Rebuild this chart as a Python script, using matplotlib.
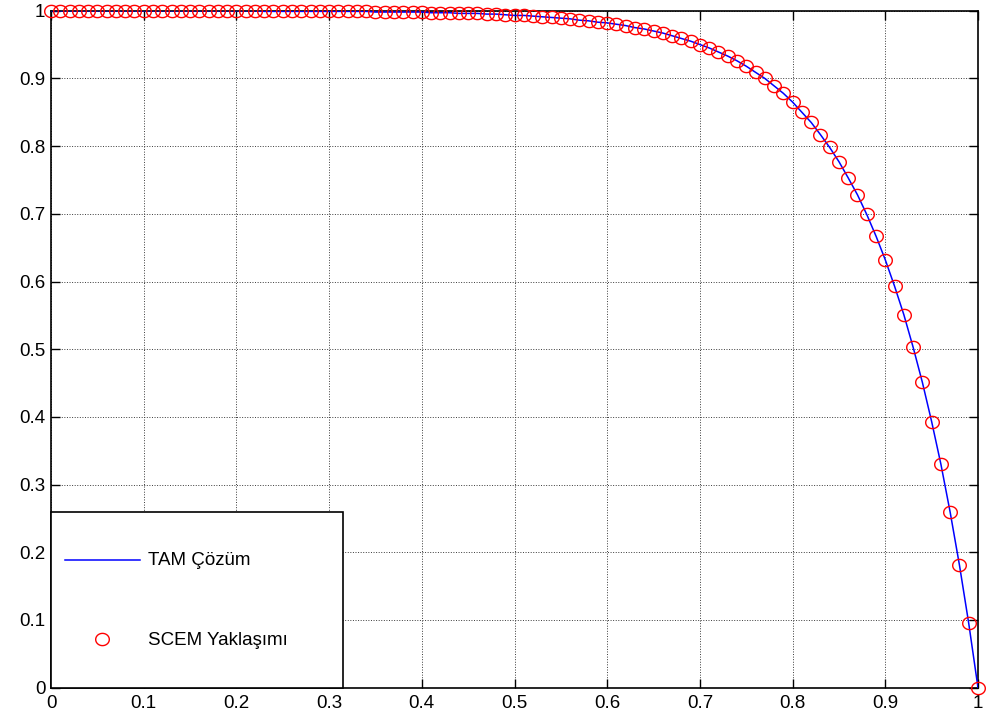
import numpy as np
import matplotlib
matplotlib.use('Agg')
import matplotlib.pyplot as plt
from matplotlib.patches import Rectangle
from matplotlib.lines import Line2D
from matplotlib.path import Path

plt.rcParams['font.family'] = ['Liberation Sans', 'DejaVu Sans']

# sample grid, one point every 0.01
x = np.linspace(0, 1, 101)

# exact solution values at the grid points
y_exact = [
    1.000, 1.000, 1.000, 1.000, 1.000, 1.000, 1.000, 1.000, 1.000, 1.000,
    1.000, 1.000, 1.000, 1.000, 1.000, 1.000, 1.000, 1.000, 1.000, 1.000,
    1.000, 1.000, 1.000, 0.999, 0.999, 0.999, 0.999, 0.999, 0.999, 0.999,
    0.999, 0.999, 0.999, 0.999, 0.999, 0.998, 0.998, 0.998, 0.998, 0.998,
    0.998, 0.997, 0.997, 0.997, 0.996, 0.996, 0.996, 0.995, 0.995, 0.994,
    0.993, 0.993, 0.992, 0.991, 0.990, 0.989, 0.988, 0.986, 0.985, 0.983,
    0.982, 0.980, 0.978, 0.975, 0.973, 0.970, 0.967, 0.963, 0.959, 0.955,
    0.950, 0.945, 0.939, 0.933, 0.926, 0.918, 0.909, 0.900, 0.889, 0.878,
    0.865, 0.850, 0.835, 0.817, 0.798, 0.777, 0.753, 0.728, 0.699, 0.667,
    0.632, 0.593, 0.551, 0.503, 0.451, 0.393, 0.330, 0.259, 0.181, 0.095,
    0.000,
]
# SCEM approximation at the same points
y_scem = list(y_exact)

ticks = [0, 0.1, 0.2, 0.3, 0.4, 0.5, 0.6, 0.7, 0.8, 0.9, 1]
tick_labels = ['0', '0.1', '0.2', '0.3', '0.4', '0.5', '0.6', '0.7', '0.8', '0.9', '1']
legend_labels = ['TAM Çözüm', 'SCEM Yaklaşımı']

# slightly flattened circle used as the marker
t = np.linspace(0, 2 * np.pi, 60)
ring = Path(np.column_stack([np.cos(t), 0.9 * np.sin(t)]), closed=True)
mk = dict(marker=ring, ms=9.8, mfc='none', mec='red', mew=1.0)

fs = 13.5

fig = plt.figure(figsize=(9.88, 7.17), dpi=100)
ax = fig.add_axes([51 / 988, (717 - 687.7) / 717, 927 / 988, 677 / 717])

ax.plot(x, y_exact, color='blue', lw=1.1, zorder=3)
ax.plot(x, y_scem, linestyle='none', clip_on=False, zorder=4, **mk)

ax.set_xlim(0, 1)
ax.set_ylim(0, 1)
ax.set_xticks(ticks)
ax.set_xticklabels(tick_labels)
ax.set_yticks(ticks)
ax.set_yticklabels(tick_labels)
ax.tick_params(direction='in', length=6.5, width=1.0, labelsize=fs,
               top=True, right=True)
ax.tick_params(axis='y', pad=4)
ax.tick_params(axis='x', pad=5)
ax.grid(True, color='#3a3a3a', linestyle=':', linewidth=0.7)
for s in ax.spines.values():
    s.set_linewidth(1.2)

# legend box in the lower-left corner
ax.add_patch(Rectangle((0, 0), 292 / 927, 175.7 / 677, transform=ax.transAxes,
                       facecolor='white', edgecolor='black', lw=1.2,
                       zorder=5, clip_on=False))
ax.add_line(Line2D([0.0155, 0.0955], [0.1886, 0.1886], transform=ax.transAxes,
                   color='blue', lw=1.1, zorder=6))
ax.add_line(Line2D([0.0553], [0.0715], transform=ax.transAxes, zorder=6, **mk))
ax.text(0.105, 0.1886, legend_labels[0], transform=ax.transAxes,
        fontsize=fs, va='center', ha='left', zorder=6)
ax.text(0.105, 0.069, legend_labels[1], transform=ax.transAxes,
        fontsize=fs, va='center', ha='left', zorder=6)

fig.savefig('out.png', dpi=100)
